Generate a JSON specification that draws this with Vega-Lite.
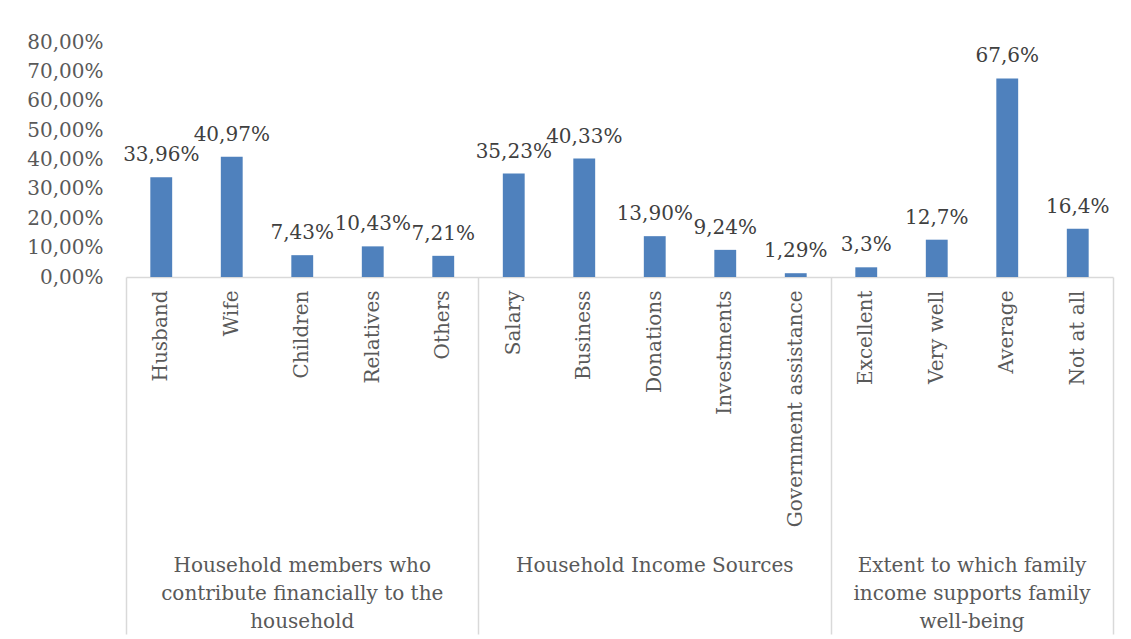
{
  "$schema": "https://vega.github.io/schema/vega-lite/v6.json",
  "autosize": "none",
  "padding": {"left": 126, "top": 42, "right": 18, "bottom": 362},
  "width": 987,
  "height": 235,
  "background": "white",
  "config": {
    "font": "DejaVu Serif",
    "view": {"stroke": null},
    "axisY": {"labelOverlap": false}
  },
  "datasets": {
    "bars": [
      {"cat": "Husband", "value": 0.3396, "label": "33,96%"},
      {"cat": "Wife", "value": 0.4097, "label": "40,97%"},
      {"cat": "Children", "value": 0.0743, "label": "7,43%"},
      {"cat": "Relatives", "value": 0.1043, "label": "10,43%"},
      {"cat": "Others", "value": 0.0721, "label": "7,21%"},
      {"cat": "Salary", "value": 0.3523, "label": "35,23%"},
      {"cat": "Business", "value": 0.4033, "label": "40,33%"},
      {"cat": "Donations", "value": 0.139, "label": "13,90%"},
      {"cat": "Investments", "value": 0.0924, "label": "9,24%"},
      {"cat": "Government assistance", "value": 0.0129, "label": "1,29%"},
      {"cat": "Excellent", "value": 0.033, "label": "3,3%"},
      {"cat": "Very well", "value": 0.127, "label": "12,7%"},
      {"cat": "Average", "value": 0.676, "label": "67,6%"},
      {"cat": "Not at all", "value": 0.164, "label": "16,4%"}
    ],
    "groups": [
      {"group": "Household members who\ncontribute financially to the\nhousehold", "anchor": "Children"},
      {"group": "Household Income Sources", "anchor": "Donations"}
    ],
    "groups2": [
      {"group": "Extent to which family\nincome supports family\nwell-being", "anchor": "Very well"}
    ]
  },
  "layer": [
    {
      "data": {"name": "bars"},
      "mark": {"type": "bar", "color": "#4f81bd", "width": {"band": 0.31}},
      "encoding": {
        "x": {
          "field": "cat", "type": "nominal",
          "scale": {
            "domain": ["Husband", "Wife", "Children", "Relatives", "Others", "Salary", "Business", "Donations", "Investments", "Government assistance", "Excellent", "Very well", "Average", "Not at all"],
            "paddingInner": 0, "paddingOuter": 0
          },
          "axis": {
            "title": null, "orient": "bottom", "labelAngle": 270, "labelFontSize": 20, "labelColor": "#595959",
            "labelPadding": 13, "ticks": false, "domainColor": "#d9d9d9", "domainWidth": 1.5, "labelLimit": 400
          }
        },
        "y": {
          "field": "value", "type": "quantitative",
          "scale": {"domain": [0, 0.8], "nice": false},
          "axis": {
            "title": null, "values": [0, 0.1, 0.2, 0.3, 0.4, 0.5, 0.6, 0.7, 0.8],
            "labelExpr": "replace(format(datum.value, '.2%'), '.', ',')",
            "labelOverlap": false,
            "grid": false, "domain": false, "ticks": false, "labelPadding": 23,
            "labelFontSize": 20, "labelColor": "#595959"
          }
        }
      }
    },
    {
      "data": {"name": "bars"},
      "mark": {"type": "text", "dy": -16, "baseline": "alphabetic", "fontSize": 20, "color": "#404040"},
      "encoding": {
        "x": {
          "field": "cat", "type": "nominal",
          "axis": {
            "title": null, "orient": "bottom", "values": ["Husband", "Salary", "Excellent"], "bandPosition": 0,
            "tickSize": 357, "tickColor": "#d9d9d9", "tickWidth": 1.5, "labels": false, "domain": false
          }
        },
        "y": {
          "field": "value", "type": "quantitative",
          "axis": {
            "title": null, "values": [0, 0.1, 0.2, 0.3, 0.4, 0.5, 0.6, 0.7, 0.8],
            "labelExpr": "replace(format(datum.value, '.2%'), '.', ',')",
            "labelOverlap": false,
            "grid": false, "domain": false, "ticks": false, "labelPadding": 23,
            "labelFontSize": 20, "labelColor": "#595959"
          }
        },
        "text": {"field": "label"}
      }
    },
    {
      "data": {"name": "groups"},
      "mark": {"type": "text", "baseline": "top", "align": "center", "fontSize": 20, "color": "#595959", "lineBreak": "\n", "lineHeight": 28},
      "encoding": {
        "x": {"field": "anchor", "type": "nominal", "axis": null},
        "y": {
          "datum": -0.95, "type": "quantitative",
          "axis": {
            "title": null, "values": [0, 0.1, 0.2, 0.3, 0.4, 0.5, 0.6, 0.7, 0.8],
            "labelExpr": "replace(format(datum.value, '.2%'), '.', ',')",
            "labelOverlap": false,
            "grid": false, "domain": false, "ticks": false, "labelPadding": 23,
            "labelFontSize": 20, "labelColor": "#595959"
          }
        },
        "text": {"field": "group"}
      }
    },
    {
      "data": {"name": "groups2"},
      "mark": {"type": "text", "baseline": "top", "align": "center", "fontSize": 20, "color": "#595959", "lineBreak": "\n", "lineHeight": 28},
      "encoding": {
        "x": {
          "field": "anchor", "type": "nominal", "bandPosition": 1,
          "axis": {
            "title": null, "orient": "bottom", "values": ["Not at all"], "bandPosition": 1,
            "tickSize": 357, "tickColor": "#d9d9d9", "tickWidth": 1.5, "labels": false, "domain": false
          }
        },
        "y": {
          "datum": -0.95, "type": "quantitative",
          "axis": {
            "title": null, "values": [0, 0.1, 0.2, 0.3, 0.4, 0.5, 0.6, 0.7, 0.8],
            "labelExpr": "replace(format(datum.value, '.2%'), '.', ',')",
            "labelOverlap": false,
            "grid": false, "domain": false, "ticks": false, "labelPadding": 23,
            "labelFontSize": 20, "labelColor": "#595959"
          }
        },
        "text": {"field": "group"}
      }
    }
  ],
  "resolve": {"axis": {"x": "independent"}}
}
